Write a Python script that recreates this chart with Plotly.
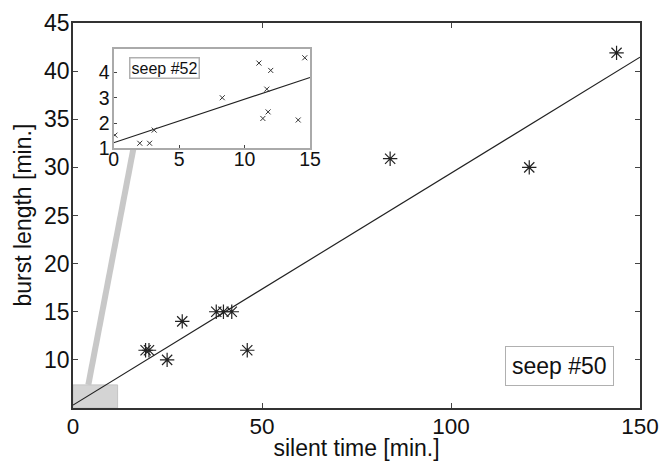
import plotly.graph_objects as go

# ---- main panel data (seep #50) ----
silent_time = [19.2, 20.1, 24.9, 28.9, 37.9, 39.8, 42.0, 46.1, 83.9, 120.7, 143.8]
burst_length = [11.0, 11.0, 10.0, 14.0, 15.0, 15.0, 15.0, 11.0, 30.9, 30.0, 41.9]
fit_intercept = 5.3
fit_slope = 0.241

# ---- inset data (seep #52) ----
inset_silent = [0.1, 2.0, 2.75, 3.1, 8.3, 11.1, 11.4, 11.7, 11.8, 12.0, 14.1, 14.6]
inset_burst = [1.52, 1.2, 1.2, 1.72, 3.0, 4.37, 2.18, 3.34, 2.44, 4.08, 2.12, 4.58]
inset_intercept = 1.22
inset_slope = 0.172

x_ticks = [0, 50, 100, 150]
y_ticks = [10, 15, 20, 25, 30, 35, 40, 45]
inset_x_ticks = [0, 5, 10, 15]
inset_y_ticks = [1, 2, 3, 4]

zoom_x = [0, 11.8]
zoom_y = [5, 7.4]

FAM = "Liberation Sans, Arial, sans-serif"

fig = go.Figure()

fig.add_trace(go.Scatter(
    x=[0, 150], y=[fit_intercept, fit_intercept + fit_slope * 150],
    mode="lines", line=dict(color="#222", width=1.2),
    xaxis="x", yaxis="y", showlegend=False, hoverinfo="skip"))
fig.add_trace(go.Scatter(
    x=silent_time, y=burst_length, mode="markers",
    marker=dict(symbol="asterisk-open", size=12, color="#222",
                line=dict(color="#222", width=1.2)),
    xaxis="x", yaxis="y", showlegend=False))

fig.add_trace(go.Scatter(
    x=[0, 15], y=[inset_intercept, inset_intercept + inset_slope * 15],
    mode="lines", line=dict(color="#222", width=1.1),
    xaxis="x2", yaxis="y2", showlegend=False, hoverinfo="skip"))
fig.add_trace(go.Scatter(
    x=inset_silent, y=inset_burst, mode="markers",
    marker=dict(symbol="x-thin-open", size=5, color="#333",
                line=dict(color="#333", width=1)),
    xaxis="x2", yaxis="y2", showlegend=False))

axis_font = dict(family=FAM, size=23, color="#111")
xtick_font = dict(family=FAM, size=22.5, color="#111")
inset_font = dict(family=FAM, size=19.5, color="#111")

fig.update_layout(
    width=659, height=461,
    margin=dict(l=73, r=19, t=23, b=53),
    paper_bgcolor="white", plot_bgcolor="white",
    font=axis_font,
    xaxis=dict(range=[0, 150], tickvals=x_ticks, ticks="inside", ticklen=5,
               showline=True, linecolor="#333", linewidth=1.5, mirror="ticks",
               showgrid=False, zeroline=False, tickfont=xtick_font, automargin=False,
               ticklabelstandoff=-3, ticklabeloverflow="allow",
               title=dict(text="silent time [min.]", font=axis_font, standoff=0)),
    yaxis=dict(range=[5, 45], tickvals=y_ticks, ticks="inside", ticklen=5,
               showline=True, linecolor="#333", linewidth=1.5, mirror="ticks",
               showgrid=False, zeroline=False, tickfont=axis_font, automargin=False,
               ticklabelstandoff=-3, ticklabeloverflow="allow"),
    xaxis2=dict(domain=[0.0716, 0.418], anchor="y2", range=[0, 15],
                tickvals=inset_x_ticks, ticks="inside", ticklen=3,
                showline=True, linecolor="#aaa", linewidth=2, mirror=True,
                showgrid=False, zeroline=False, automargin=False,
                ticklabelstandoff=-8, ticklabeloverflow="allow", tickfont=inset_font),
    yaxis2=dict(domain=[0.6745, 0.932], anchor="x2", range=[1, 4.92],
                tickvals=inset_y_ticks, ticks="inside", ticklen=3,
                showline=True, linecolor="#aaa", linewidth=2, mirror=True,
                showgrid=False, zeroline=False, automargin=False,
                ticklabelstandoff=-2, ticklabeloverflow="allow", tickfont=inset_font),
    shapes=[
        dict(type="rect", xref="x", yref="y", x0=zoom_x[0], x1=zoom_x[1],
             y0=zoom_y[0], y1=zoom_y[1], fillcolor="#d4d4d4",
             line=dict(color="#c4c4c4", width=1), layer="below"),
        dict(type="line", xref="x", yref="y", x0=4.05, y0=zoom_y[1], x1=16.0, y1=32.0,
             line=dict(color="#c8c8c8", width=6), layer="below"),
        dict(type="rect", xref="x2 domain", yref="y2 domain", x0=0, x1=1, y0=0, y1=1,
             fillcolor="white", line=dict(width=0), layer="below"),
    ],
    annotations=[
        dict(text="burst length [min.]", xref="paper", yref="paper",
             x=(22 - 73) / 567.3, y=0.5, xanchor="center", yanchor="middle",
             textangle=-90, showarrow=False, font=axis_font),
        dict(text="seep #50", xref="paper", yref="paper", x=0.858, y=0.109,
             xanchor="center", yanchor="middle",
             showarrow=False, font=dict(family=FAM, size=23, color="#111"),
             bgcolor="white", bordercolor="#b0b0b0", borderwidth=1, borderpad=6),
        dict(text="seep #52", xref="paper", yref="paper", x=0.161, y=0.883,
             xanchor="center", yanchor="middle",
             showarrow=False, font=dict(family=FAM, size=16, color="#111"),
             bgcolor="white", bordercolor="#b0b0b0", borderwidth=1.5, borderpad=1),
    ],
)

fig.write_html("out.html", config={"displayModeBar": False})

# remove default page margin so the figure sits at the window's top-left corner
with open("out.html", "r", encoding="utf-8") as f:
    html = f.read()
html = html.replace("<head>", "<head><style>html,body{margin:0;padding:0;overflow:hidden}</style>", 1)
with open("out.html", "w", encoding="utf-8") as f:
    f.write(html)
